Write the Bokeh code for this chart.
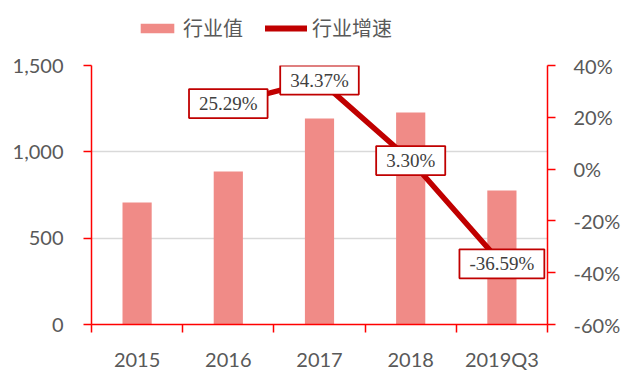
from bokeh.plotting import figure
from bokeh.layouts import column
from bokeh.models import (Range1d, LinearAxis, FixedTicker, NumeralTickFormatter,
                          PrintfTickFormatter, ColumnDataSource, Legend, LegendItem)
from bokeh.core.properties import value
from bokeh.embed import file_html
from bokeh.resources import INLINE

categories = ["2015", "2016", "2017", "2018", "2019Q3"]
industry_value = [706, 886, 1193, 1228, 776]
growth_categories = ["2016", "2017", "2018", "2019Q3"]
growth_pct = [25.29, 34.37, 3.30, -36.59]
left_ticks = [0, 500, 1000, 1500]
right_ticks = [-60, -40, -20, 0, 20, 40]
series_names = ["行业值", "行业增速"]

AXIS_RED = "#FF0000"
TEXT_GRAY = "#595959"
BAR_COLOR = "#F08B87"
LINE_COLOR = "#C00000"
TICK_FONT = "Lato"

W = 632
LEG_H = 50

xpos = {c: i + 0.5 for i, c in enumerate(categories)}

# ---- legend strip (its frame is aligned with the main chart's frame) ----
lf = figure(width=W, height=LEG_H, output_backend="svg", toolbar_location=None,
            x_range=Range1d(0, 1), y_range=Range1d(0, 1),
            x_axis_location=None, y_axis_location=None, min_border=0)
lf.outline_line_color = None
lf.background_fill_color = None
lf.border_fill_color = None
lf.xgrid.visible = False
lf.ygrid.visible = False
# legend proxies, kept outside the visible range
dummy_bar = lf.vbar(x=[-10], top=[-10], bottom=[-11], width=0.3,
                    fill_color=BAR_COLOR, line_color=None)
dummy_line = lf.line(x=[-10, -11], y=[-10, -10], line_color=LINE_COLOR, line_width=6,
                     line_cap="round")
legend = Legend(items=[LegendItem(label=series_names[0], renderers=[dummy_bar]),
                       LegendItem(label=series_names[1], renderers=[dummy_line])],
                location=(45, 8), orientation="horizontal",
                padding=0, margin=0, spacing=22, label_standoff=5,
                glyph_width=42, glyph_height=12,
                label_text_font="Noto Sans CJK SC", label_text_font_size="20px",
                label_text_color=TEXT_GRAY,
                border_line_color=None, background_fill_alpha=0)
lf.add_layout(legend, "center")

# ---- main chart ----
p = figure(width=W, height=384 - LEG_H, output_backend="svg", toolbar_location=None,
           x_range=Range1d(0, len(categories)), y_range=Range1d(0, 1500),
           min_border_left=91, min_border_right=85, min_border_top=65 - LEG_H,
           min_border_bottom=60)
p.outline_line_color = None
p.background_fill_color = "white"
p.border_fill_color = "white"

p.extra_y_ranges = {"pct": Range1d(-60, 40)}

bar_src = ColumnDataSource(dict(x=[xpos[c] for c in categories], top=industry_value))
p.vbar(x="x", top="top", width=0.32, bottom=0, source=bar_src,
       fill_color=BAR_COLOR, line_color=None)

line_src = ColumnDataSource(dict(x=[xpos[c] for c in growth_categories], y=growth_pct,
                                 label=[f"{v:.2f}%" for v in growth_pct]))
p.line(x="x", y="y", source=line_src, y_range_name="pct",
       line_color=LINE_COLOR, line_width=5.5, line_join="round", line_cap="round")

p.text(x="x", y="y", text="label", source=line_src, y_range_name="pct",
       text_font=value("Liberation Serif"), text_font_size="19px", text_color="#404040",
       text_align="center", text_baseline="middle",
       background_fill_color="white", border_line_color=LINE_COLOR, border_line_width=1.8,
       padding=(10, 4))

# x axis
xax = p.xaxis[0]
xax.ticker = FixedTicker(ticks=[xpos[c] for c in categories],
                         minor_ticks=list(range(len(categories) + 1)))
xax.major_label_overrides = {xpos[c]: c for c in categories}
xax.axis_line_color = AXIS_RED
xax.axis_line_width = 1.5
xax.major_tick_line_color = None
xax.minor_tick_line_color = AXIS_RED
xax.minor_tick_line_width = 1.5
xax.minor_tick_in = 0
xax.minor_tick_out = 8
xax.major_label_standoff = 14
xax.major_label_text_font = TICK_FONT
xax.major_label_text_font_size = "20px"
xax.major_label_text_color = TEXT_GRAY
p.xgrid.visible = False

# left axis
yax = p.yaxis[0]
yax.ticker = FixedTicker(ticks=left_ticks)
yax.formatter = NumeralTickFormatter(format="0,0")
yax.axis_line_color = AXIS_RED
yax.axis_line_width = 1.5
yax.major_tick_line_color = AXIS_RED
yax.major_tick_line_width = 1.5
yax.major_tick_in = 0
yax.major_tick_out = 8
yax.minor_tick_line_color = None
yax.major_label_standoff = 20
yax.major_label_text_font = TICK_FONT
yax.major_label_text_font_size = "20px"
yax.major_label_text_color = TEXT_GRAY
p.ygrid.grid_line_color = "#D9D9D9"
p.ygrid.grid_line_width = 1.5

# right axis
rax = LinearAxis(y_range_name="pct", ticker=FixedTicker(ticks=right_ticks),
                 formatter=PrintfTickFormatter(format="%d%%"))
rax.axis_line_color = AXIS_RED
rax.axis_line_width = 1.5
rax.major_tick_line_color = AXIS_RED
rax.major_tick_line_width = 1.5
rax.major_tick_in = 0
rax.major_tick_out = 8
rax.minor_tick_line_color = None
rax.major_label_standoff = 18
rax.major_label_text_font = TICK_FONT
rax.major_label_text_font_size = "20px"
rax.major_label_text_color = TEXT_GRAY
p.add_layout(rax, "right")

layout = column(lf, p, spacing=0)
open("out.html", "w").write(file_html(layout, INLINE))
